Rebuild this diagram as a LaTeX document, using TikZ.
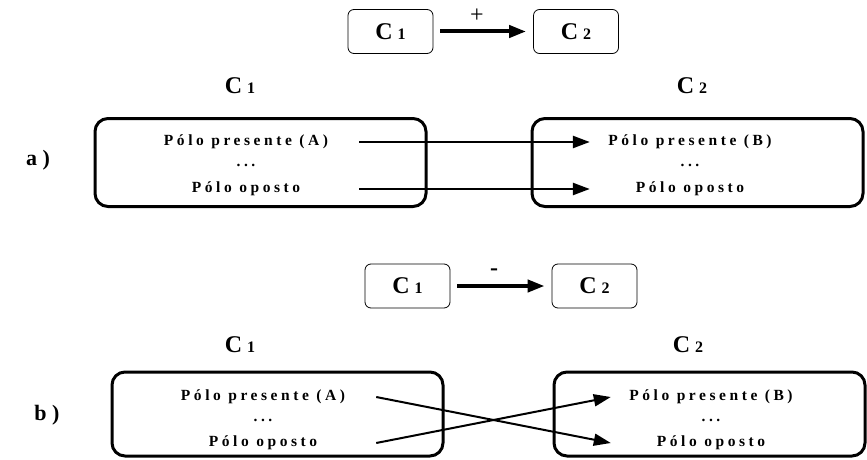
\documentclass[tikz,border=0pt]{standalone}
\usepackage{fontspec}
\setmainfont{Liberation Serif}
\newfontfamily\polofont[LetterSpace=23]{Liberation Serif}
\usetikzlibrary{arrows.meta}
\usetikzlibrary{positioning}

\newcommand{\cnome}[1]{{\fontsize{24}{26}\selectfont C}\hspace{5pt}{\fontsize{16}{17}\selectfont #1}}

\tikzset{
  caixa/.style={draw, rounded corners=6pt, line width=0.8pt, minimum width=85pt, minimum height=44pt, font=\bfseries},
  rotulo/.style={font=\bfseries},
  secao/.style={font=\bfseries\fontsize{22}{24}\selectfont},
  bloco/.style={draw, rounded corners=13pt, line width=3pt, minimum width=331pt, minimum height=88pt},
  poloA/.style={inner sep=0pt, minimum width=226pt, font=\polofont\bfseries\fontsize{15.5}{17}\selectfont},
  poloB/.style={poloA, minimum width=200pt},
  seta/.style={-{Triangle[length=17pt,width=12pt]}, line width=2.5pt},
}

\begin{document}
\begin{tikzpicture}[x=1pt, y=-1pt]
  \useasboundingbox (0,0) rectangle (867,460);

  % a) ligacao positiva
  \node [caixa] (c1p) at (390.5,31.5) {\cnome{1}};
  \node [caixa] (c2p) at (576,31.5) {\cnome{2}};
  \node (mais) at (477,16) {\fontsize{24}{24}\selectfont +};
  \draw [seta, line width=4pt, shorten <=7pt, shorten >=7pt] (c1p) -- (c2p);

  \node [rotulo] (la1) at (240,86) {\cnome{1}};
  \node [rotulo] (la2) at (692,86) {\cnome{2}};
  \node [secao] (sa) at (38,160) {a )};

  \node [bloco] (ba1) at (260.5,162.5) {};
  \node [bloco] (ba2) at (697.5,162.5) {};

  \node [poloA] (pa1) at (246,142) {Pólo presente (A)};
  \node [poloA, on grid, below=23.5pt of pa1] (pa2) {...};
  \node [poloA, on grid, below=23.5pt of pa2] (pa3) {Pólo oposto};
  \node [poloB] (pb1) at (690,142) {Pólo presente (B)};
  \node [poloB, on grid, below=23.5pt of pb1] (pb2) {...};
  \node [poloB, on grid, below=23.5pt of pb2] (pb3) {Pólo oposto};

  \draw [seta] (pa1.east) -- (pb1.west);
  \draw [seta] (pa3.east) -- (pb3.west);

  % b) ligacao negativa
  \node [caixa] (c1m) at (407.5,286) {\cnome{1}};
  \node [caixa] (c2m) at (594.5,286) {\cnome{2}};
  \node [rotulo] (menos) at (494,272) {\fontsize{24}{24}\selectfont -};
  \draw [seta, line width=4pt, shorten <=7pt, shorten >=7pt] (c1m) -- (c2m);

  \node [rotulo] (lb1) at (240,345) {\cnome{1}};
  \node [rotulo] (lb2) at (688,345) {\cnome{2}};
  \node [secao] (sb) at (47,415) {b )};

  \node [bloco, minimum height=84pt] (bb1) at (277.5,414) {};
  \node [bloco, minimum height=84pt, minimum width=311pt] (bb2) at (709.5,414) {};

  \node [poloA] (qa1) at (263,397) {Pólo presente (A)};
  \node [poloA, on grid, below=23pt of qa1] (qa2) {...};
  \node [poloA, on grid, below=23pt of qa2] (qa3) {Pólo oposto};
  \node [poloB] (qb1) at (711,397) {Pólo presente (B)};
  \node [poloB, on grid, below=23pt of qb1] (qb2) {...};
  \node [poloB, on grid, below=23pt of qb2] (qb3) {Pólo oposto};

  \draw [seta, line width=2pt] (qa1.east) -- (qb3.west);
  \draw [seta, line width=2pt] (qa3.east) -- (qb1.west);
\end{tikzpicture}
\end{document}
